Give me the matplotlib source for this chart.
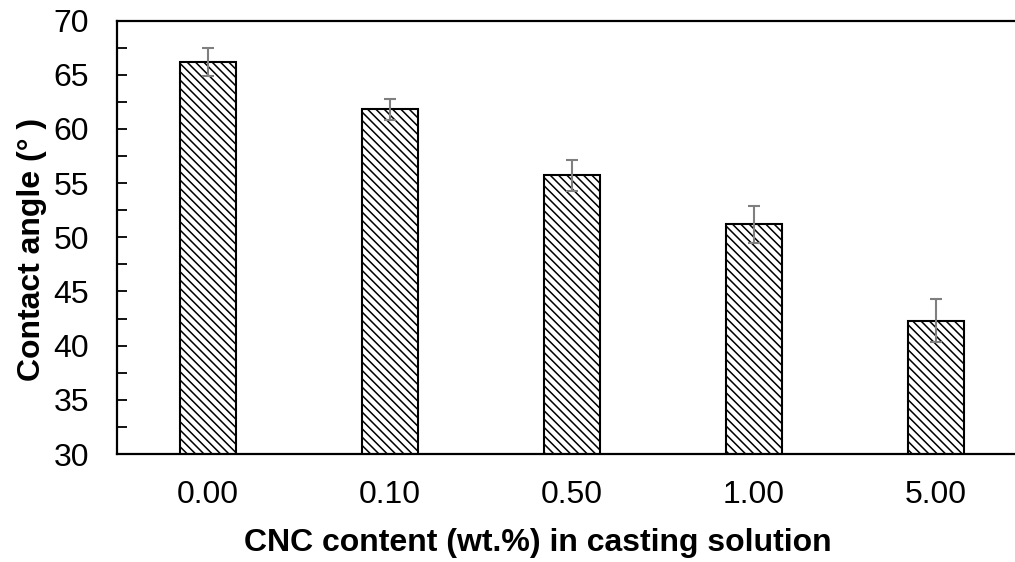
import numpy as np
import matplotlib
matplotlib.use('Agg')
import matplotlib.pyplot as plt

# 数据
categories = ['0.00', '0.10', '0.50', '1.00', '5.00']
contact_angle = [66.2, 61.8, 55.7, 51.2, 42.3]
errors = [1.3, 1.0, 1.4, 1.7, 2.0]

plt.rcParams['font.family'] = ['Liberation Sans', 'DejaVu Sans']
plt.rcParams['hatch.linewidth'] = 1.1
plt.rcParams['hatch.color'] = 'black'

fig = plt.figure(figsize=(10.15, 5.62), dpi=100)
# 坐标轴右侧超出画布（原图被裁切）
ax = fig.add_axes([117 / 1015, 108 / 562, 910 / 1015, 433.5 / 562])

x = np.arange(len(categories))
ax.bar(x, contact_angle, width=0.31, color='white', edgecolor='black',
       linewidth=1.5, hatch='\\\\\\\\', zorder=2)
ax.errorbar(x, contact_angle, yerr=errors, fmt='none', ecolor='#7f7f7f',
            elinewidth=1.5, capsize=4.5, capthick=1.5, zorder=3)

ax.set_xlim(-0.5, 4.5)
ax.set_ylim(30, 70)
ax.set_xticks(x)
ax.set_xticklabels(categories)
ax.set_yticks(np.arange(30, 71, 5))
ax.set_yticks(np.arange(30, 71, 2.5), minor=True)

ax.tick_params(axis='y', which='both', direction='in', length=7, width=1.3,
               labelsize=23, pad=20)
ax.tick_params(axis='x', which='both', length=0, labelsize=23, pad=18.5)

for s in ax.spines.values():
    s.set_linewidth(1.6)

ax.set_xlabel('CNC content (wt.%) in casting solution', fontsize=23,
              fontweight='bold', labelpad=13.5)
ax.set_ylabel('Contact angle (° )', fontsize=23, fontweight='bold', labelpad=5)
# 标签位置（原图中标签相对可见区域居中）
ax.xaxis.label.set_x(0.4626)
ax.yaxis.label.set_y(0.473)

fig.savefig('out.png', dpi=100)
plt.close(fig)
